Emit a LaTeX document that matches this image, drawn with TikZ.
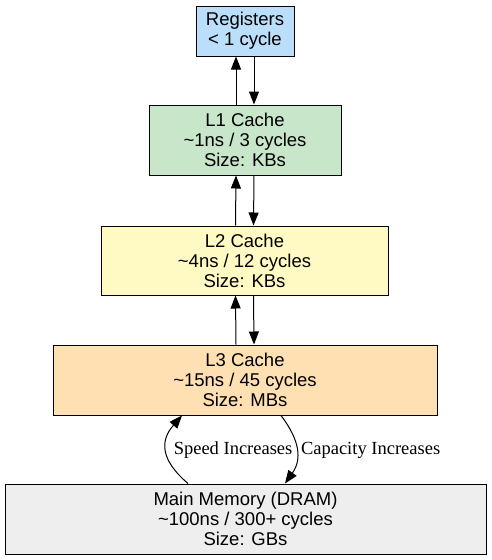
\documentclass[tikz,border=0pt]{standalone}
\usepackage{fontspec}
\setmainfont{Liberation Serif}
\newfontfamily\boxfont{Liberation Sans}
\usetikzlibrary{arrows.meta}
\definecolor{regc}{HTML}{BBDEFB}
\definecolor{lonec}{HTML}{C8E6C9}
\definecolor{ltwoc}{HTML}{FFF9C4}
\definecolor{lthreec}{HTML}{FFE0B2}
\definecolor{memc}{HTML}{EEEEEE}
\tikzset{
  memlevel/.style={draw=black, line width=1pt, align=center, inner sep=0pt,
    font=\boxfont\fontsize{18.5}{20}\selectfont},
  arr/.style={line width=1pt, -{Triangle[length=13pt,width=10pt]}},
  lbl/.style={font=\fontsize{18.5}{20}\selectfont, inner sep=4pt, right}
}
\begin{document}
\begin{tikzpicture}[x=1pt,y=-1pt]
\useasboundingbox (0,0) rectangle (491,560);
\node[memlevel, fill=regc, minimum width=98pt, minimum height=50pt] (reg) at (245,31) {Registers\\< 1 cycle};
\node[memlevel, fill=lonec, minimum width=192pt, minimum height=70pt] (l1) at (245,140) {L1 Cache\\\textasciitilde1ns / 3 cycles\\Size: KBs};
\node[memlevel, fill=ltwoc, minimum width=287pt, minimum height=69pt] (l2) at (244.5,260.5) {L2 Cache\\\textasciitilde4ns / 12 cycles\\Size: KBs};
\node[memlevel, fill=lthreec, minimum width=384pt, minimum height=70pt] (l3) at (245,380) {L3 Cache\\\textasciitilde15ns / 45 cycles\\Size: MBs};
\node[memlevel, fill=memc, minimum width=481pt, minimum height=70pt] (mem) at (245.5,519) {Main Memory (DRAM)\\\textasciitilde100ns / 300+ cycles\\Size: GBs};
\draw[arr] ([xshift=-9pt]l1.north) -- ([xshift=-9pt]reg.south);
\draw[arr] ([xshift=9pt]reg.south) -- ([xshift=9pt]l1.north);
\draw[arr] ([xshift=-9pt]l2.north) -- ([xshift=-9pt]l1.south);
\draw[arr] ([xshift=9pt]l1.south) -- ([xshift=9pt]l2.north);
\draw[arr] ([xshift=-9pt]l3.north) -- ([xshift=-9pt]l2.south);
\draw[arr] ([xshift=9pt]l2.south) -- ([xshift=9pt]l3.north);
\draw[arr] ([xshift=-57.5pt]mem.north) .. controls +(-28,-24) and +(-22,25) .. ([xshift=-63pt]l3.south)
  node[lbl, pos=0.5, xshift=3pt] (speedlbl) {Speed Increases};
\draw[arr] ([xshift=36pt]l3.south) .. controls +(19,25) and +(17,-24) .. ([xshift=39.5pt]mem.north)
  node[lbl, pos=0.5] (caplbl) {Capacity Increases};
\end{tikzpicture}
\end{document}
